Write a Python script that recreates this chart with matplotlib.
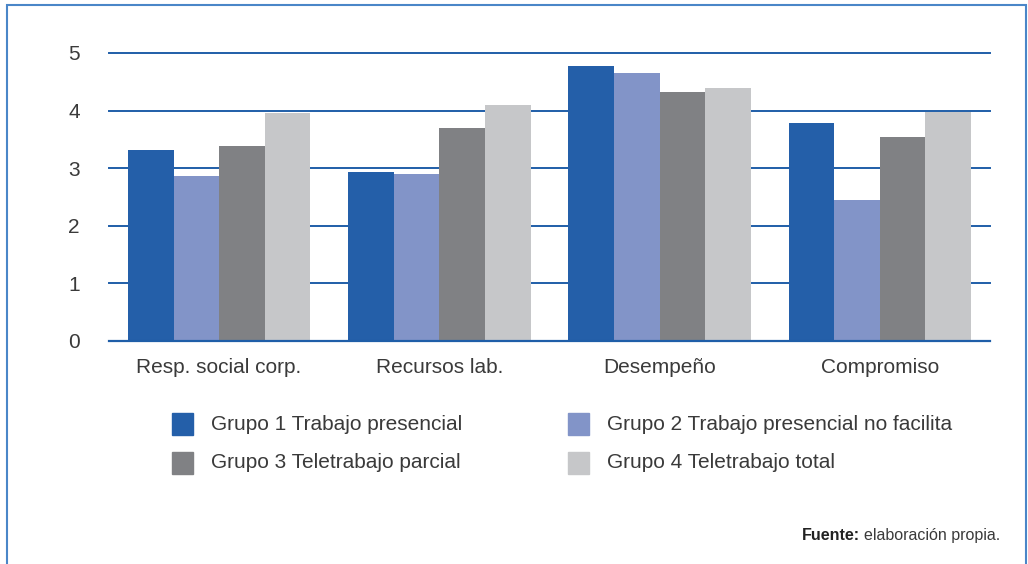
import numpy as np
import matplotlib.pyplot as plt
from matplotlib.patches import Rectangle

# datos
categorias = ["Resp. social corp.", "Recursos lab.", "Desempeño", "Compromiso"]
grupos = [
    "Grupo 1 Trabajo presencial",
    "Grupo 2 Trabajo presencial no facilita",
    "Grupo 3 Teletrabajo parcial",
    "Grupo 4 Teletrabajo total",
]
grupo1 = [3.32, 2.93, 4.77, 3.78]
grupo2 = [2.86, 2.90, 4.65, 2.45]
grupo3 = [3.39, 3.70, 4.32, 3.54]
grupo4 = [3.96, 4.10, 4.39, 3.98]
colores = ["#245fa9", "#8294c8", "#808184", "#c6c7c9"]
gris_texto = "#3a3a3a"

plt.rcParams["font.family"] = ["Liberation Sans", "DejaVu Sans"]

W, H = 1028, 564
fig = plt.figure(figsize=(W / 100, H / 100), dpi=100)
ax = fig.add_axes([109 / W, 1 - 341 / H, 881 / W, 288 / H])

x = np.arange(len(categorias))
ancho = 0.207
series = [grupo1, grupo2, grupo3, grupo4]
for i, (vals, col) in enumerate(zip(series, colores)):
    ax.bar(x + (i - 1.5) * ancho, vals, ancho, color=col, zorder=3)

ax.set_xlim(-0.5, 3.5)
ax.set_ylim(0, 5)
ax.set_yticks(range(6))
ax.yaxis.grid(True, color="#1f5ea8", linewidth=1.4, zorder=0)
for gl in ax.get_ygridlines():
    gl.set_clip_on(False)
ax.axhline(0, color="#1f5ea8", linewidth=1.6, zorder=4, clip_on=False)
for s in ax.spines.values():
    s.set_visible(False)
ax.set_xticks(x)
ax.set_xticklabels(categorias)
ax.tick_params(axis="both", length=0, labelsize=15, colors=gris_texto)
ax.tick_params(axis="y", pad=21)
ax.tick_params(axis="x", pad=12)

# leyenda
pos = [(172, 424), (568, 424), (172, 463), (568, 463)]
for (px, py), nombre, col in zip(pos, grupos, colores):
    fig.add_artist(Rectangle((px / W, 1 - (py + 11) / H), 21 / W, 22 / H,
                             transform=fig.transFigure, color=col))
    fig.text((px + 39) / W, 1 - py / H, nombre, fontsize=15, color=gris_texto,
             va="center", ha="left")

# fuente
t = fig.text(1000 / W, 1 - 540 / H, "elaboración propia.", fontsize=11.5,
             color=gris_texto, ha="right", va="baseline")
r = fig.canvas.get_renderer()
x0 = t.get_window_extent(r).x0
fig.text((x0 - 4) / W, 1 - 540 / H, "Fuente:", fontsize=11.5, fontweight="bold",
         color="#222222", ha="right", va="baseline")

# marco
fig.add_artist(Rectangle((7 / W, -0.05), 1019 / W, 1 - 5 / H + 0.05,
                         transform=fig.transFigure, fill=False, edgecolor="#4a86c8",
                         linewidth=1.5))

fig.savefig("out.png", dpi=100)
